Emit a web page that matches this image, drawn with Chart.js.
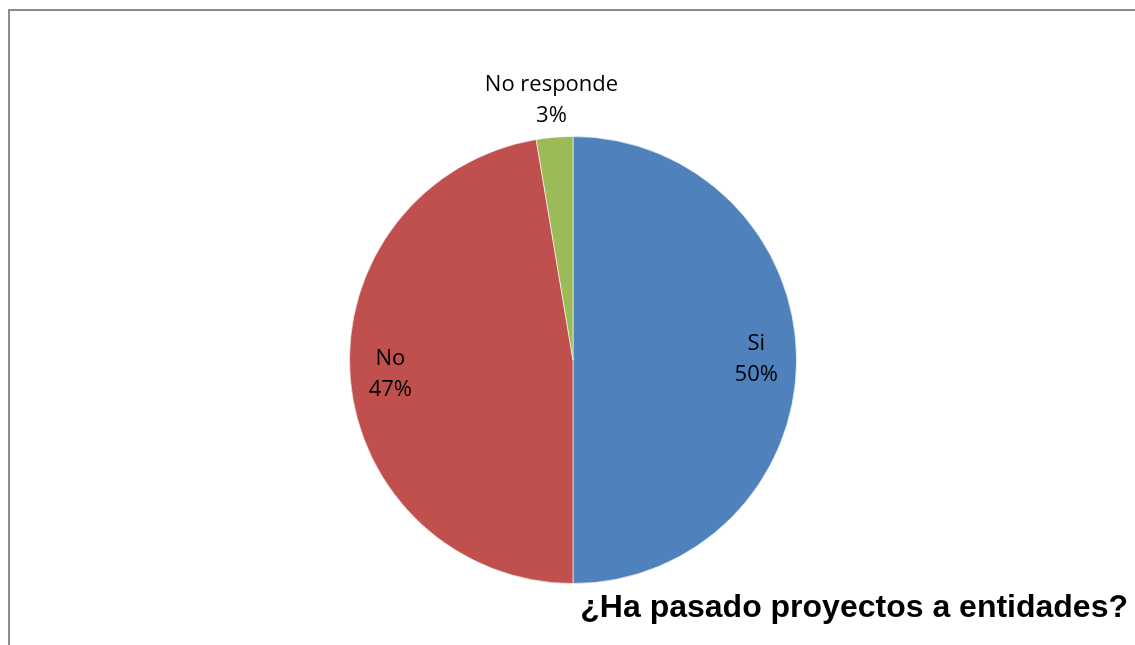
<!DOCTYPE html>
<html lang="es">
<head>
  <meta charset="UTF-8" />
  <title>¿Ha pasado proyectos a entidades?</title>
  <style>
    html, body {
      margin: 0;
      padding: 0;
      background: #ffffff;
      overflow: hidden;
    }
    .marco {
      position: absolute;
      left: 8px;
      top: 9px;
      width: 1135px;
      height: 660px;
      border-top: 2px solid #8c8c8c;
      border-left: 2px solid #8c8c8c;
    }
    #wrap {
      position: absolute;
      left: 0;
      top: 0;
      width: 1135px;
      height: 645px;
    }
  </style>
</head>
<body>
  <div class="marco"></div>
  <div id="wrap"><canvas id="grafico"></canvas></div>

  <script src="https://cdn.jsdelivr.net/npm/chart.js"></script>
  <script>
    // datos
    const categorias = ['Si', 'No', 'No responde'];
    const respuestas = [19, 18, 1];
    const colores = ['#4F81BD', '#C0504D', '#9BBB59'];
    const titulo = '¿Ha pasado proyectos a entidades?';

    const total = respuestas.reduce((a, b) => a + b, 0);

    // etiquetas tipo Excel: dentro de la porcion, o fuera si es pequeña
    const etiquetas = {
      id: 'etiquetas',
      afterDatasetsDraw(chart) {
        const ctx = chart.ctx;
        const meta = chart.getDatasetMeta(0);
        ctx.save();
        ctx.font = '22px "Open Sans", "Noto Sans", sans-serif';
        ctx.fillStyle = '#000';
        ctx.textAlign = 'center';
        ctx.textBaseline = 'middle';
        meta.data.forEach((arc, i) => {
          const p = arc.getProps(['x', 'y', 'startAngle', 'endAngle', 'outerRadius'], true);
          const medio = (p.startAngle + p.endAngle) / 2;
          const frac = respuestas[i] / total;
          const r = frac < 0.05 ? p.outerRadius + 37 : p.outerRadius * 0.82;
          const cx = p.x + Math.cos(medio) * r;
          const cy = p.y + Math.sin(medio) * r;
          const pct = Math.round(frac * 100) + '%';
          ctx.fillText(categorias[i], cx, cy - 16);
          ctx.fillText(pct, cx, cy + 15);
        });
        ctx.restore();
      }
    };

    const ctx = document.getElementById('grafico').getContext('2d');
    new Chart(ctx, {
      type: 'pie',
      data: {
        labels: categorias,
        datasets: [{
          data: respuestas,
          backgroundColor: colores,
          borderColor: 'rgba(255,255,255,0.6)',
          borderWidth: 1
        }]
      },
      options: {
        responsive: true,
        maintainAspectRatio: false,
        animation: false,
        layout: {
          padding: { left: 349, right: 338, top: 136, bottom: 61 }
        },
        plugins: {
          legend: { display: false },
          tooltip: { enabled: false },
          title: { display: false }
        }
      },
      plugins: [etiquetas, {
        id: 'tituloAbajo',
        afterDraw(chart) {
          const c = chart.ctx;
          c.save();
          c.font = 'bold 32px "Liberation Sans", Arial, sans-serif';
          c.fillStyle = '#000';
          c.textAlign = 'right';
          c.textBaseline = 'alphabetic';
          c.fillText(titulo, 1128, 617);
          c.restore();
        }
      }]
    });
  </script>
</body>
</html>
